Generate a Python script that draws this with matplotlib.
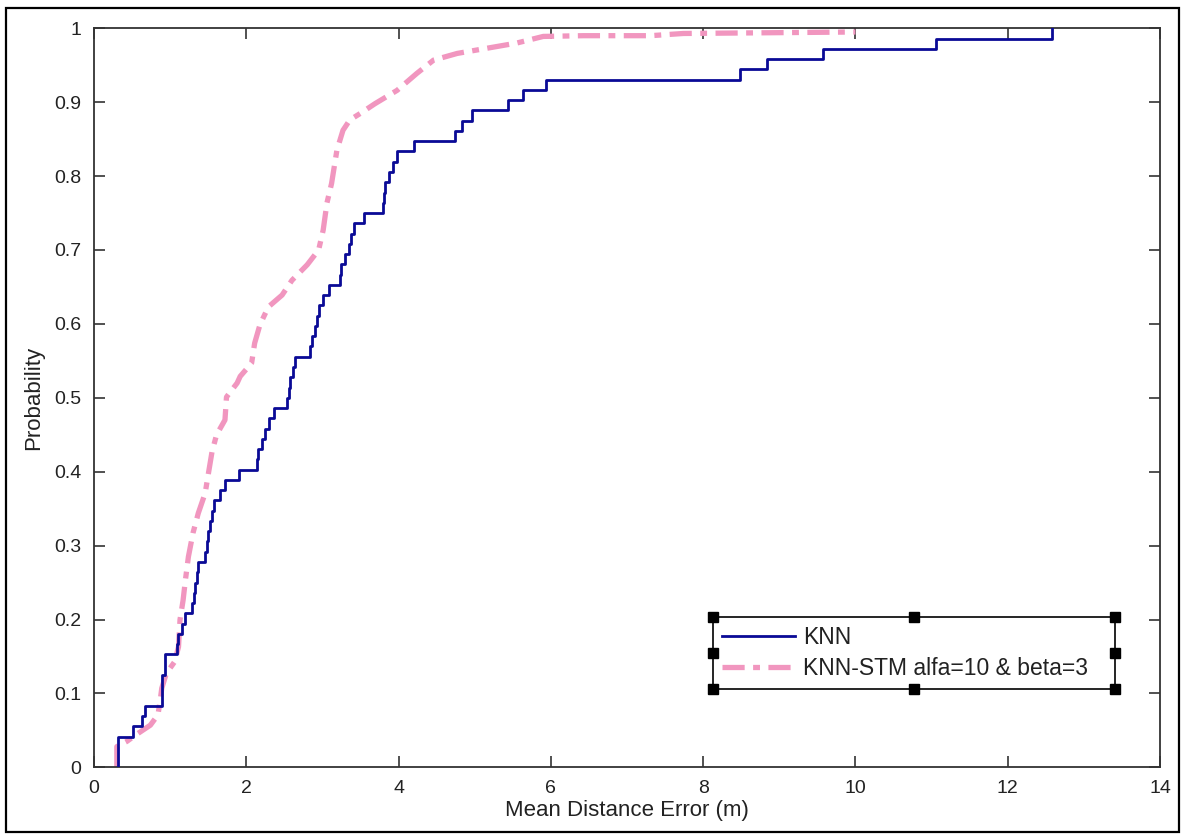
import numpy as np
import matplotlib
matplotlib.use("Agg")
import matplotlib.pyplot as plt
from matplotlib.patches import Rectangle

plt.rcParams['font.family'] = ['Liberation Sans', 'DejaVu Sans']

# Positioning errors (m) of the plain KNN estimator, one per test point
knn_errors = [0.315, 0.315, 0.315, 0.51, 0.63, 0.67, 0.89, 0.89, 0.89, 0.93, 0.93,
              1.09, 1.10, 1.15, 1.20, 1.29, 1.31, 1.33, 1.35, 1.37, 1.46, 1.48,
              1.50, 1.52, 1.55, 1.57, 1.66, 1.72, 1.90, 2.14, 2.16, 2.20, 2.25,
              2.30, 2.36, 2.53, 2.56, 2.58, 2.61, 2.64, 2.84, 2.86, 2.90, 2.93,
              2.95, 3.01, 3.08, 3.23, 3.25, 3.30, 3.35, 3.38, 3.41, 3.54, 3.80,
              3.81, 3.82, 3.88, 3.93, 3.98, 4.20, 4.74, 4.83, 4.96, 5.44, 5.64,
              5.93, 8.49, 8.84, 9.58, 11.06, 12.58]

# Cumulative distribution of the KNN-STM errors
stm_error = [0.30, 0.30, 0.43, 0.58, 0.74, 0.84, 0.87, 0.89, 0.95, 1.06, 1.11,
             1.13, 1.17, 1.20, 1.24, 1.30, 1.37, 1.46, 1.50, 1.55, 1.61, 1.72,
             1.74, 1.88, 1.92, 2.07, 2.11, 2.18, 2.29, 2.47, 2.60, 2.80, 2.95,
             3.01, 3.06, 3.12, 3.19, 3.27, 3.36, 3.50, 3.69, 3.98, 4.24, 4.46,
             4.77, 5.16, 5.55, 5.90, 6.43, 7.31, 7.74, 10.0]
stm_prob = [0.0, 0.028, 0.035, 0.046, 0.057, 0.071, 0.091, 0.107, 0.127, 0.143,
            0.163, 0.20, 0.226, 0.253, 0.285, 0.317, 0.344, 0.371, 0.396, 0.427,
            0.45, 0.47, 0.501, 0.52, 0.529, 0.547, 0.574, 0.599, 0.623, 0.639,
            0.659, 0.68, 0.70, 0.727, 0.764, 0.79, 0.835, 0.862, 0.876, 0.885,
            0.898, 0.916, 0.939, 0.957, 0.966, 0.973, 0.98, 0.989, 0.99, 0.99,
            0.993, 0.995]

series_labels = ['KNN', 'KNN-STM alfa=10 & beta=3']
x_ticks = [0, 2, 4, 6, 8, 10, 12, 14]
y_ticks = [0, 0.1, 0.2, 0.3, 0.4, 0.5, 0.6, 0.7, 0.8, 0.9, 1.0]
y_tick_labels = ['0', '0.1', '0.2', '0.3', '0.4', '0.5', '0.6', '0.7', '0.8', '0.9', '1']

W, H = 1184, 834
fig = plt.figure(figsize=(W / 100, H / 100), dpi=100)
fig.patch.set_facecolor('white')
ax = fig.add_axes([94 / W, 1 - 767.3 / H, 1066 / W, 739 / H])

# empirical CDF of the KNN errors
errs = np.sort(np.asarray(knn_errors))
cdf = np.arange(1, errs.size + 1) / errs.size
ax.step(np.r_[errs[0], errs], np.r_[0.0, cdf], where='post',
        color='#0a0a96', lw=2.0, label=series_labels[0], zorder=3)

ax.plot(stm_error, stm_prob, color='#f196bf', lw=3.8,
        linestyle=(0, (4.2, 1.6, 1.3, 1.6)), label=series_labels[1], zorder=2)

ax.set_xlim(0, 14)
ax.set_ylim(0, 1)
ax.set_xticks(x_ticks)
ax.set_xticklabels([str(t) for t in x_ticks])
ax.set_yticks(y_ticks)
ax.set_yticklabels(y_tick_labels)
ax.tick_params(direction='in', length=8, width=1.1, top=True, right=True,
               labelsize=14, pad=9, colors='#222222')
for s in ax.spines.values():
    s.set_linewidth(1.3)
    s.set_color('#333333')

ax.set_xlabel('Mean Distance Error (m)', fontsize=16, color='#222222', labelpad=2)
ax.set_ylabel('Probability', fontsize=16, color='#222222', labelpad=7)

leg = ax.legend(loc='lower left', bbox_to_anchor=(0.5807, 0.106, 0.3771, 0.0974),
                mode='expand', fontsize=16.5, frameon=True, fancybox=False,
                edgecolor='black', handlelength=3.2, handletextpad=0.35,
                borderpad=0.38, labelspacing=0.38, borderaxespad=0)
leg.get_frame().set_linewidth(1.2)
leg.get_frame().set_alpha(None)
for t in leg.get_texts():
    t.set_color('#222222')

# selection handles around the legend box
fig.canvas.draw()
bb = leg.get_frame().get_window_extent()
bb = bb.transformed(fig.transFigure.inverted())
sw, sh = 10 / W, 10 / H
xs = [bb.x0, (bb.x0 + bb.x1) / 2, bb.x1]
ys = [bb.y0, (bb.y0 + bb.y1) / 2, bb.y1]
for i, xx in enumerate(xs):
    for j, yy in enumerate(ys):
        if i == 1 and j == 1:
            continue
        fig.patches.append(Rectangle((xx - sw / 2, yy - sh / 2), sw, sh,
                                     transform=fig.transFigure, color='black',
                                     zorder=10))

# outer border of the figure
fig.patches.append(Rectangle((6 / W, 1 - 832 / H), (1179 - 6) / W, (832 - 8) / H,
                             transform=fig.transFigure, fill=False,
                             ec='black', lw=1.6))

fig.savefig('out.png', dpi=100)
